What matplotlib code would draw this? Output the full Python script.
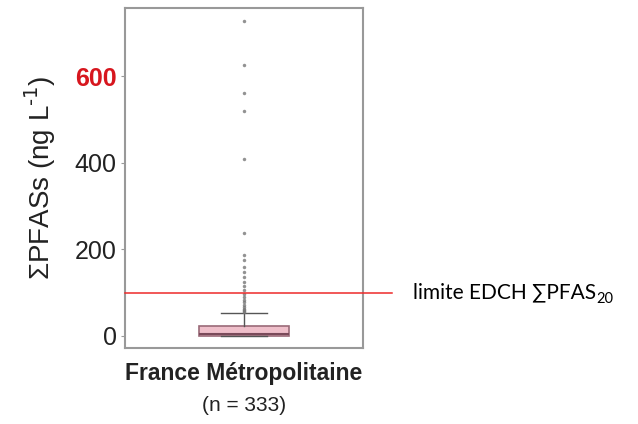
import numpy as np
import matplotlib.pyplot as plt
import matplotlib.transforms as mtransforms

# box statistics (ng/L)
group_name = "France Métropolitaine"
group_n = "(n = 333)"
q1, med, q3 = 1, 4, 24
whisk_lo, whisk_hi = 0, 53
outliers = [727, 625, 561, 519, 408, 237, 187, 175, 160, 148, 137, 125,
            115, 105, 97, 90, 84, 78, 72, 67, 63, 60, 58, 56]
limit_value = 100
yticks = [0, 200, 400, 600]

fig = plt.figure(figsize=(6.38, 4.24), dpi=100)
ax = fig.add_axes([0.196, 0.179, 0.373, 0.802])

stats = [{"med": med, "q1": q1, "q3": q3, "whislo": whisk_lo,
          "whishi": whisk_hi, "fliers": outliers, "label": ""}]
ax.bxp(stats, positions=[1], widths=0.38, capwidths=0.19, patch_artist=True,
       boxprops=dict(facecolor="#efbfca", edgecolor="#9a6a78", linewidth=1.2),
       medianprops=dict(color="#7a4a5a", linewidth=1.5),
       whiskerprops=dict(color="#555555", linewidth=1),
       capprops=dict(color="#555555", linewidth=1),
       flierprops=dict(marker="o", markersize=2.5, markerfacecolor="#777777",
                       markeredgecolor="none", alpha=0.8))

ax.set_xlim(0.5, 1.5)
ax.set_ylim(-28, 757)

# red regulatory limit line, runs past the right edge of the axes
trans = mtransforms.blended_transform_factory(ax.transAxes, ax.transData)
ax.plot([0, 1.122], [limit_value, limit_value], color="#ee2a2a", lw=1.1,
        transform=trans, clip_on=False, zorder=5)
t1 = ax.text(1.21, limit_value, "limite EDCH \u2211PFAS", transform=trans,
             va="center", ha="left", fontsize=15,
             family=["Lato", "DejaVu Sans"])
fig.canvas.draw()
bb = t1.get_window_extent()
fig.text(bb.x1 / fig.bbox.width + 0.001, (bb.y0 - 3) / fig.bbox.height, "20",
         fontsize=10.5, family="Lato", va="bottom", ha="left")

ax.set_yticks(yticks)
ax.set_yticklabels([str(v) for v in yticks], fontsize=18, family="Liberation Sans",
                   color="#222222")
lab600 = ax.get_yticklabels()[-1]
lab600.set_color("#d7161e")
lab600.set_fontweight("bold")
ax.tick_params(axis="y", length=3, color="#999999", pad=3)

ax.set_xticks([1])
ax.set_xticklabels([group_name], fontsize=16.5, fontweight="bold",
                   family="Liberation Sans", color="#222222")
ax.tick_params(axis="x", length=0, pad=10)
ax.text(0.5, -0.17, group_n, transform=ax.transAxes, ha="center", va="center",
        fontsize=15, family="Liberation Sans", color="#222222")

ax.set_ylabel("\u03a3PFASs (ng L$^{\\text{-1}}$)", fontsize=20,
              family="Liberation Sans", color="#222222", labelpad=12)

for s in ax.spines.values():
    s.set_color("#999999")
    s.set_linewidth(1.5)

fig.savefig("out.png", dpi=100)
